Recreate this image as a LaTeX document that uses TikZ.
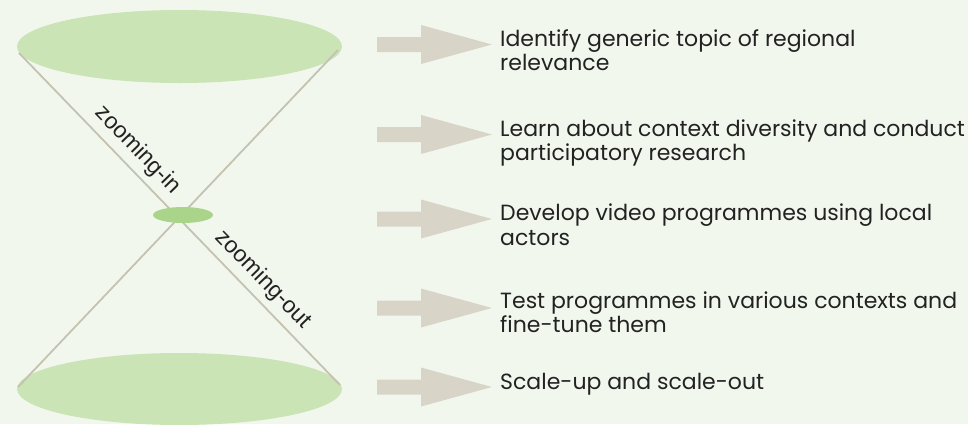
\documentclass[tikz,border=0pt]{standalone}
\usepackage{fontspec}
\setmainfont{Poppins}
\newfontfamily\labelfont{Liberation Sans}
\definecolor{bgc}{RGB}{242,247,238}
\definecolor{bigell}{RGB}{202,228,182}
\definecolor{midell}{RGB}{170,212,138}
\definecolor{linec}{RGB}{196,194,176}
\definecolor{arrowc}{RGB}{216,213,200}
\definecolor{textc}{RGB}{34,34,34}
\tikzset{
  x=1pt, y=-1pt,
  coneline/.style={draw=linec, line width=1.8pt},
  zoomlabel/.style={sloped, above=3pt, font=\labelfont\fontsize{23}{26}\selectfont, text=textc},
  steptext/.style={anchor=base west, inner sep=0pt, font=\fontsize{22}{24}\selectfont, text=textc},
  bigarrow/.pic={\fill[arrowc] (0,-7.5) -- (44,-7.5) -- (44,-19.5) -- (115,0) -- (44,19.5) -- (44,7.5) -- (0,7.5) -- cycle;}
}
\begin{document}
\begin{tikzpicture}
\useasboundingbox (0,0) rectangle (968,424);
\fill[bgc] (0,0) rectangle (968,424);
% ellipses
\fill[bigell] (179.5,46.5) ellipse [x radius=162.5pt, y radius=36.5pt];
\fill[bigell] (179.5,389) ellipse [x radius=162.5pt, y radius=36pt];
\coordinate (tl) at (19,53);
\coordinate (tr) at (338,50);
\coordinate (bl) at (18,387);
\coordinate (br) at (340,385);
\draw[coneline] (tl) -- (br)
  node[zoomlabel, pos=0.33] (zin) {zooming-in}
  node[zoomlabel, pos=0.72] (zout) {zooming-out};
\draw[coneline] (tr) -- (bl);
\fill[midell] (183,215) ellipse [x radius=30pt, y radius=8pt];
% arrows
\foreach \c in {44.5,134.5,219,308,387}{
  \pic at (377,\c) {bigarrow};
}
% texts
\node[steptext] (t1a) at (500,46) {Identify generic topic of regional};
\node[steptext] (t1b) at (500,70.5) {relevance};
\node[steptext] (t2a) at (500,136) {Learn about context diversity and conduct};
\node[steptext] (t2b) at (500,160.5) {participatory research};
\node[steptext] (t3a) at (500,220.5) {Develop video programmes using local};
\node[steptext] (t3b) at (500,245) {actors};
\node[steptext] (t4a) at (500,308) {Test programmes in various contexts and};
\node[steptext] (t4b) at (500,332.5) {fine-tune them};
\node[steptext] (t5a) at (500,389.5) {Scale-up and scale-out};
\end{tikzpicture}
\end{document}
